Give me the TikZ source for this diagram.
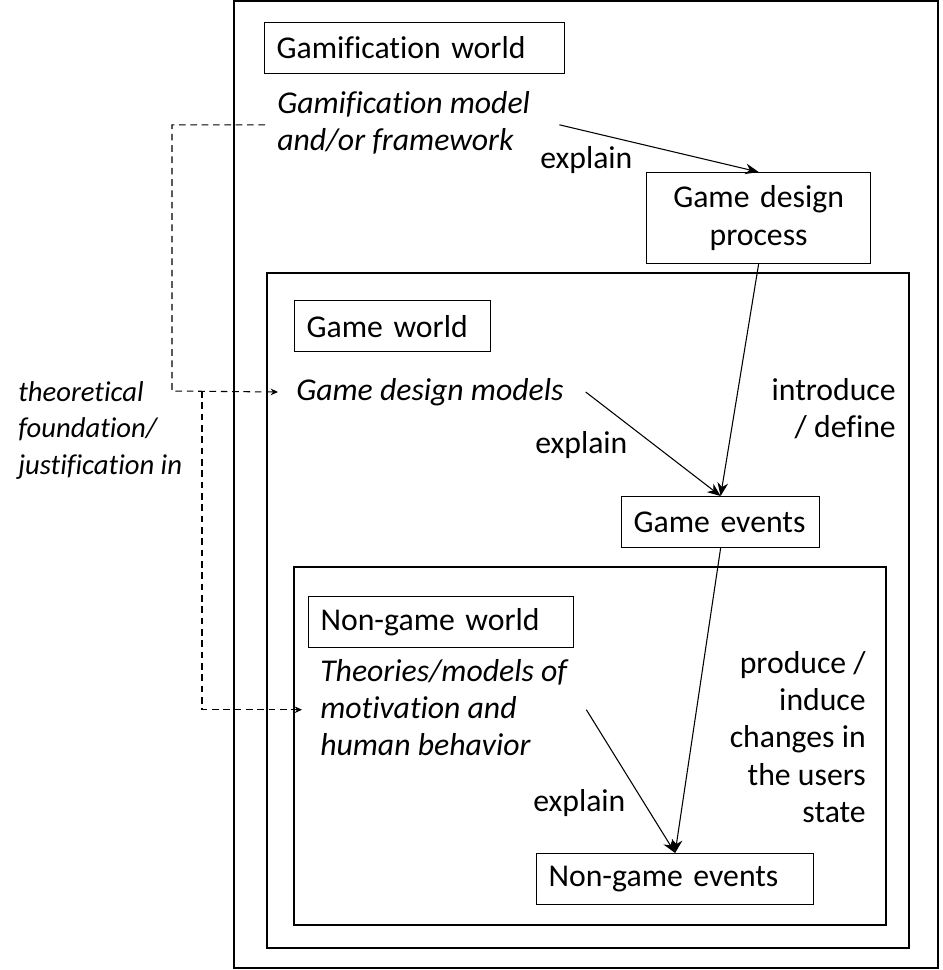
\documentclass[tikz,border=0pt]{standalone}
\usepackage{fontspec}
\setmainfont{Carlito}[Ligatures=CommonOff]
\usepackage{tikz}
\usetikzlibrary{arrows.meta,calc}

\newcommand{\dgfont}{\fontsize{23.8}{28}\selectfont}
\newcommand{\sidefont}{\fontsize{21.5}{27.5}\selectfont}

\tikzset{
  frame/.style={line width=0.9pt},
  wbox/.style={draw, line width=0.9pt, anchor=north west, inner xsep=9pt, inner ysep=0pt, minimum height=38.25pt, align=left, font=\dgfont},
  itxt/.style={anchor=north west, inner sep=0pt, align=left, font=\dgfont\itshape},
  plain/.style={anchor=north west, inner sep=0pt, align=left, font=\dgfont},
  arr/.style={line width=0.8pt, -{Stealth[length=10pt,width=8pt]}},
  darr/.style={line width=0.8pt, dash pattern=on 5pt off 3.5pt, -{Stealth[length=5.5pt,width=5pt]}},
}

\begin{document}
\begin{tikzpicture}[x=0.75pt,y=0.75pt,yscale=-1,xscale=1]

\useasboundingbox (0,0) rectangle (942,970);

% worlds
\draw[frame] (234,1) rectangle (938,968);
\draw[frame] (267,273) rectangle (909,948);
\draw[frame] (294,567) rectangle (886,925);

% gamification world
\node[wbox, text width=207pt] (gwld) at (264,22) {Gamification world};
\node[itxt] (gfm) at (277,91) {Gamification model\\and/or framework};
\node[plain] (ex1) at (540,146) {explain};
\node[wbox, text width=150pt, align=center, minimum height=68.25pt] (gdp) at (646,172) {Game design\\process};

% game world
\node[wbox, text width=129pt] (gw) at (294,300) {Game world};
\node[itxt] (gdm) at (296,378) {Game design models};
\node[plain, align=right, anchor=north east] (idf) at (896,378) {introduce\\/ define};
\node[plain] (ex2) at (535,431) {explain};
\node[wbox, text width=130.5pt] (ge) at (621,496) {Game events};

% non-game world
\node[wbox, text width=180.75pt] (ngw) at (308,596) {Non-game world};
\node[itxt] (tmh) at (320,659) {Theories/models of\\motivation and\\human behavior};
\node[plain, align=right, anchor=north east] (pic) at (866,651) {produce /\\induce\\changes in\\the users\\state};
\node[plain] (ex3) at (533,789) {explain};
\node[wbox, text width=189.75pt] (nge) at (536,853) {Non-game events};

% left side
\node[itxt, font=\sidefont\itshape] (tfj) at (18,381) {theoretical\\foundation/\\justification in};
\coordinate (j1) at (172,391);
\coordinate (j2) at (202,391);

% arrows
\draw[arr] ($(gfm.east)+(29,2)$) -- (gdp.north);
\draw[arr] (gdp.south) -- (ge.north);
\draw[arr] ($(gdm.east)+(22,0)$) -- (ge.north);
\draw[arr] (ge.south) -- (nge.north);
\draw[arr] ($(tmh.east)+(19,2)$) -- (nge.north);

\draw[darr] ($(gfm.west)+(-12,2)$) -| (j1) -- ($(gdm.west)+(-18,0)$);
\draw[darr] (j2) |- ($(tmh.west)+(-18,2)$);

\end{tikzpicture}
\end{document}
